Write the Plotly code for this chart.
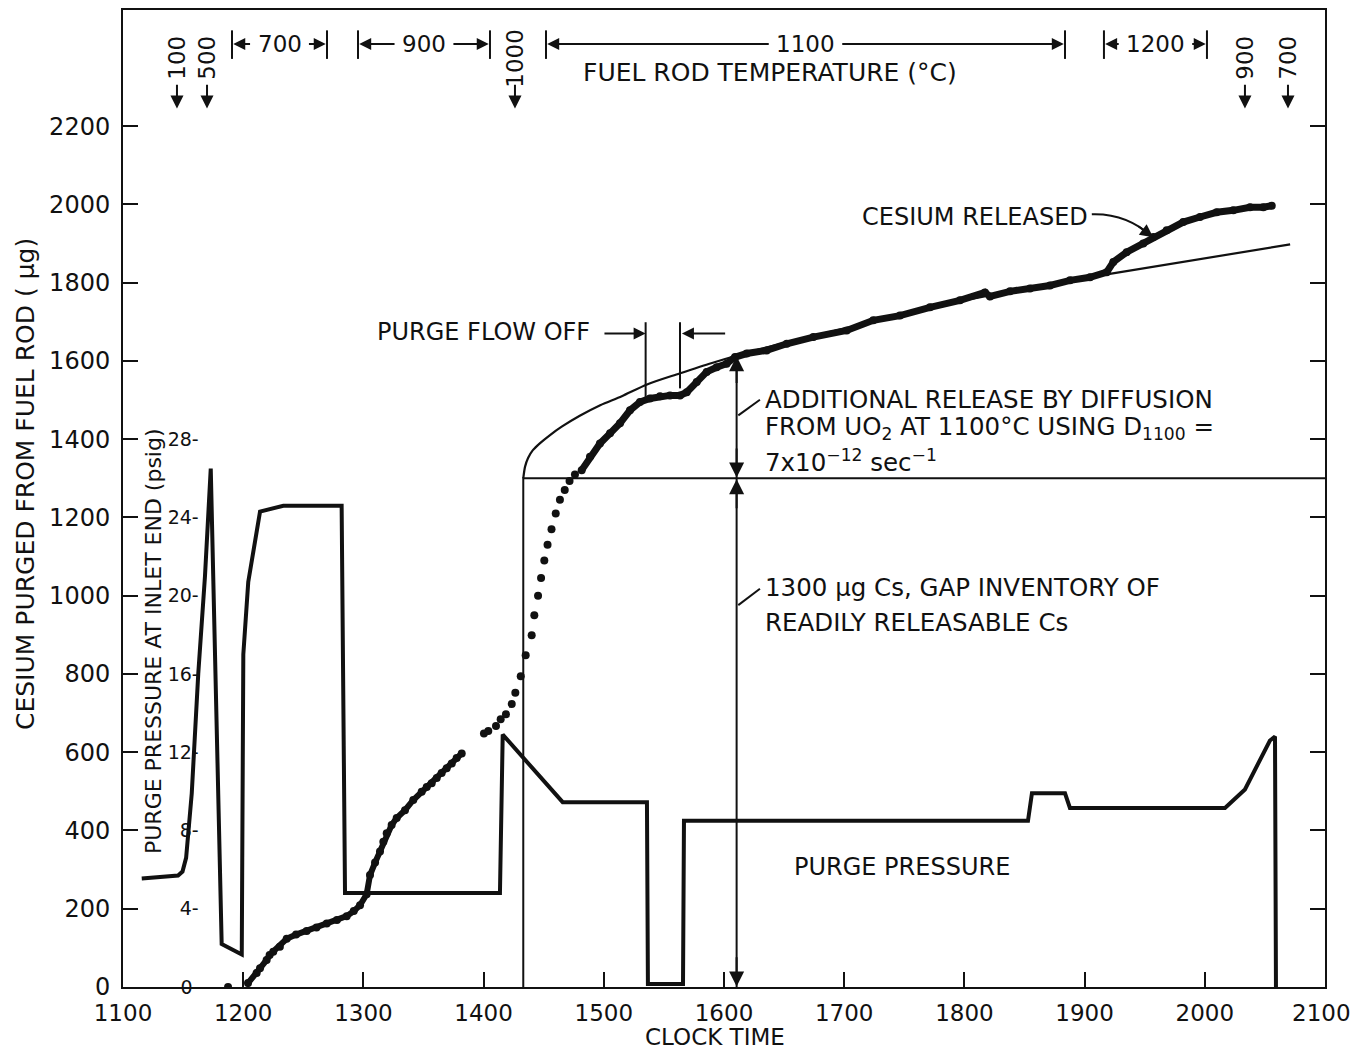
import plotly.graph_objects as go

# ---------------- data ----------------
# cesium purged (clock time, micrograms) - dense chain part 1
cs1_t = [1204.0, 1211.2, 1214.0, 1219.5, 1222.0, 1225.0, 1230.5, 1236.2, 1244.0, 1252.8, 1261.0,
         1269.5, 1278.0, 1286.1, 1292.0, 1297.2, 1302.7, 1305.5, 1309.7, 1313.8, 1316.6, 1319.4,
         1323.5, 1327.7, 1334.6, 1341.5, 1348.5, 1352.7, 1356.8, 1361.0, 1365.1, 1369.3, 1373.5,
         1377.6, 1381.8]
cs1_v = [10, 36, 48, 69, 82, 90, 103, 123, 134, 143, 152,
         162, 171, 181, 194, 209, 237, 286, 318, 346, 371, 393,
         414, 432, 452, 478, 499, 511, 521, 534, 547, 559, 571,
         585, 597]
# isolated point
cs0_t = [1187.4]
cs0_v = [0]
# sparse part
cs2_t = [1400.3, 1403.9, 1410.3, 1414.2, 1418.6, 1423.4, 1426.4, 1430.9, 1435.0, 1440.0, 1442.2,
         1445.3, 1447.8, 1450.5, 1453.2, 1456.5, 1460.0, 1463.5, 1467.5, 1471.5, 1476.0]
cs2_v = [648, 654, 667, 684, 697, 723, 752, 794, 848, 899, 950,
         1000, 1045, 1090, 1130, 1170, 1210, 1245, 1270, 1293, 1310]
# dense chain part 2
cs3_t = [1481.6, 1488.5, 1496.8, 1505.2, 1513.5, 1521.8, 1530.1, 1538.4, 1546.8, 1555.1, 1563.4,
         1569.0, 1577.3, 1585.6, 1593.9, 1602.2, 1609.2, 1618.9, 1635.5, 1652.2, 1674.3, 1702.1,
         1724.2, 1746.4, 1771.4, 1796.3, 1817.1, 1821.3, 1838.0, 1854.6, 1871.2, 1887.9, 1904.5,
         1918.4, 1923.9, 1935.0, 1948.8, 1957.2, 1968.3, 1982.1, 1996.0, 2009.9, 2023.7, 2037.6,
         2048.7, 2055.7]
cs3_v = [1321, 1355, 1389, 1415, 1441, 1474, 1495, 1504, 1510, 1512, 1512,
         1520, 1546, 1572, 1584, 1593, 1610, 1619, 1627, 1644, 1661, 1678,
         1704, 1716, 1737, 1755, 1775, 1765, 1778, 1785, 1793, 1806, 1814,
         1827, 1853, 1878, 1900, 1917, 1934, 1955, 1968, 1980, 1985, 1993,
         1993, 1997]

# diffusion model curve (clock time, micrograms)
diff_t = [1433, 1434.5, 1437, 1441, 1447, 1455, 1465, 1480, 1497, 1515, 1536, 1563, 1590, 1611,
          1640, 1680, 1720, 1760, 1800, 1850, 1912, 2071]
diff_v = [1300, 1330, 1352, 1372, 1390, 1410, 1432, 1460, 1487, 1510, 1540, 1568, 1595, 1614,
          1638, 1668, 1697, 1727, 1755, 1784, 1818, 1898]

# gap inventory
gap_t = [1433, 1433, 2100]
gap_v = [0, 1300, 1300]

# purge pressure (clock time, psig)
pp_t = [1115.6, 1145.8, 1149.5, 1152.5, 1157.2, 1162.6, 1168.2, 1173.0, 1182.1, 1198.8, 1200.1,
        1204.2, 1214.0, 1233.4, 1281.9, 1284.7, 1413.6, 1415.9, 1465.8, 1535.9, 1536.7, 1565.9,
        1566.7, 1852.9, 1856.2, 1883.7, 1887.8, 2016.8, 2033.4, 2045.9, 2054.2, 2058.4, 2059.2]
pp_v = [5.55, 5.7, 5.9, 6.6, 9.9, 16.0, 21.0, 26.5, 2.2, 1.66, 17.0,
        20.7, 24.3, 24.6, 24.6, 4.8, 4.8, 12.9, 9.45, 9.45, 0.15, 0.15,
        8.5, 8.5, 9.9, 9.9, 9.15, 9.15, 10.1, 11.6, 12.6, 12.8, 0.0]

# axis ticks
x_ticks = [1100, 1200, 1300, 1400, 1500, 1600, 1700, 1800, 1900, 2000, 2100]
x_ticktext = ["1100", "1200", "1300", "1400", "1500", "1600", "1700", "1800", "1900", "2000",
              "2100\u00a0"]
y_ticks = [0, 200, 400, 600, 800, 1000, 1200, 1400, 1600, 1800, 2000, 2200]
p_ticks = [0, 4, 8, 12, 16, 20, 24, 28]
p_ticktext = ["0\u00a0", "4-", "8-", "12-", "16-", "20-", "24-", "28-"]

# fuel rod temperature annotations
temp_pt_labels = ["100", "500", "1000", "900", "700"]
temp_pt_times = [1144.9, 1169.9, 1426.1, 2033.4, 2069.2]
temp_span_labels = ["700", "900", "1100", "1200"]
temp_span_start = [1190.7, 1295.5, 1451.9, 1916.1]
temp_span_end = [1269.7, 1405.3, 1883.7, 2001.8]

FONT = "DejaVu Sans"
BLACK = "#111111"

fig = go.Figure()

fig.add_trace(go.Scatter(x=gap_t, y=gap_v, mode="lines",
                         line=dict(color=BLACK, width=2), showlegend=False))
fig.add_trace(go.Scatter(x=diff_t, y=diff_v, mode="lines",
                         line=dict(color=BLACK, width=2.2, shape="spline", smoothing=0.8),
                         showlegend=False))
fig.add_trace(go.Scatter(x=pp_t, y=pp_v, mode="lines", yaxis="y2",
                         line=dict(color=BLACK, width=4), showlegend=False))
mk = dict(color=BLACK, size=8)
fig.add_trace(go.Scatter(x=cs0_t, y=cs0_v, mode="markers", marker=mk, showlegend=False))
fig.add_trace(go.Scatter(x=cs1_t, y=cs1_v, mode="lines+markers", marker=mk,
                         line=dict(color=BLACK, width=6), showlegend=False))
fig.add_trace(go.Scatter(x=cs2_t, y=cs2_v, mode="markers", marker=mk, showlegend=False))
fig.add_trace(go.Scatter(x=cs3_t, y=cs3_v, mode="lines+markers", marker=mk,
                         line=dict(color=BLACK, width=7), showlegend=False))

ann = []
shapes = []
PXU = 1.202  # pixels per clock unit (approx)


def arrow(x, y, ax, ay, size=1.2):
    return dict(x=x, y=y, xref="x", yref="y", ax=ax, ay=ay, axref="x", ayref="y", text="",
                showarrow=True, arrowhead=2, arrowsize=size, arrowwidth=2, arrowcolor=BLACK)


# temperature point labels with down arrows
for lab, t in zip(temp_pt_labels, temp_pt_times):
    ann.append(dict(x=t, y=2375, xref="x", yref="y", text=lab, textangle=-90, showarrow=False,
                    font=dict(family=FONT, size=23, color=BLACK)))
    ann.append(arrow(t, 2245, t, 2310, 1.3))

# temperature spans
for lab, a, b in zip(temp_span_labels, temp_span_start, temp_span_end):
    c = (a + b) / 2
    half = (len(lab) * 0.636 * 23 / 2 + 6) / PXU
    ann.append(dict(x=c, y=2410, xref="x", yref="y", text=lab, showarrow=False,
                    font=dict(family=FONT, size=23, color=BLACK)))
    ann.append(arrow(a + 1, 2410, c - half, 2410))
    ann.append(arrow(b - 1, 2410, c + half, 2410))
    for xx in (a, b):
        shapes.append(dict(type="line", xref="x", yref="y", x0=xx, x1=xx, y0=2372, y1=2445,
                           line=dict(color=BLACK, width=2)))

ann.append(dict(x=1638, y=2337, xref="x", yref="y", text="FUEL ROD TEMPERATURE (°C)",
                showarrow=False, font=dict(family=FONT, size=25, color=BLACK)))

# cesium released
ann.append(dict(x=1808.8, y=1967, xref="x", yref="y", text="CESIUM RELEASED", showarrow=False,
                font=dict(family=FONT, size=24, color=BLACK)))
shapes.append(dict(type="path", xref="x", yref="y", path="M 1906 1975 Q 1935 1978 1957 1916",
                   line=dict(color=BLACK, width=2)))
ann.append(dict(x=1957, y=1916, xref="x", yref="y", ax=-16, ay=-12, text="", showarrow=True,
                arrowhead=2, arrowsize=1.3, arrowwidth=2, arrowcolor=BLACK))

# purge flow off
ann.append(dict(x=1400.3, y=1673, xref="x", yref="y", text="PURGE FLOW OFF", showarrow=False,
                font=dict(family=FONT, size=24, color=BLACK)))
ann.append(arrow(1534.8, 1670, 1499.3, 1670))
ann.append(arrow(1565, 1670, 1602.2, 1670))
shapes.append(dict(type="line", xref="x", yref="y", x0=1534.8, x1=1534.8, y0=1508, y1=1699,
                   line=dict(color=BLACK, width=2)))
shapes.append(dict(type="line", xref="x", yref="y", x0=1563.4, x1=1563.4, y0=1530, y1=1699,
                   line=dict(color=BLACK, width=2)))

# double arrows at 1610
XA = 1610.5
shapes.append(dict(type="line", xref="x", yref="y", x0=XA, x1=XA, y0=0, y1=1612,
                   line=dict(color=BLACK, width=2)))
for tip, tail in [(1612, 1540), (1302, 1380), (1298, 1220), (1, 80)]:
    ann.append(arrow(XA, tip, XA, tail, 1.5))
shapes.append(dict(type="line", xref="x", yref="y", x0=1611.9, x1=1629.9, y0=1461, y1=1501,
                   line=dict(color=BLACK, width=2)))
shapes.append(dict(type="line", xref="x", yref="y", x0=1611.9, x1=1629.9, y0=976, y1=1018,
                   line=dict(color=BLACK, width=2)))

txt_lines = [
    (1502, "ADDITIONAL RELEASE BY DIFFUSION"),
    (1429, "FROM UO<sub>2</sub> AT 1100°C USING D<sub>1100</sub> ="),
    (1345, "7x10<sup>−12</sup> sec<sup>−1</sup>"),
    (1021, "1300 μg Cs, GAP INVENTORY OF"),
    (931, "READILY RELEASABLE Cs"),
]
for yy, tx in txt_lines:
    ann.append(dict(x=1632.8, y=yy, xref="x", yref="y", text=tx, showarrow=False, xanchor="left",
                    font=dict(family=FONT, size=24.5, color=BLACK)))

ann.append(dict(x=1748, y=306, xref="x", yref="y", text="PURGE PRESSURE", showarrow=False,
                font=dict(family=FONT, size=24, color=BLACK)))

# axis titles (paper coordinates; plot area 123..1325 x 10..987 px)
PW, PH = 1202, 977
ann.append(dict(x=(25 - 123) / PW, y=(987 - 484) / PH, xref="paper", yref="paper",
                xanchor="center", yanchor="middle",
                text="CESIUM PURGED FROM FUEL ROD ( μg)", textangle=-90, showarrow=False,
                font=dict(family=FONT, size=25, color=BLACK)))
ann.append(dict(x=(153 - 123) / PW, y=(987 - 641) / PH, xref="paper", yref="paper",
                xanchor="center", yanchor="middle",
                text="PURGE PRESSURE AT INLET END (psig)", textangle=-90, showarrow=False,
                font=dict(family=FONT, size=22, color=BLACK)))
ann.append(dict(x=(715 - 123) / PW, y=(987 - 1037) / PH, xref="paper", yref="paper",
                xanchor="center", yanchor="middle",
                text="CLOCK TIME", showarrow=False,
                font=dict(family=FONT, size=23, color=BLACK)))

fig.update_layout(
    width=1342, height=1042,
    margin=dict(l=115, r=25, t=2, b=63, autoexpand=False),
    paper_bgcolor="white", plot_bgcolor="white",
    font=dict(family=FONT, color=BLACK),
    xaxis=dict(range=[1100, 2100], tickvals=x_ticks, ticktext=x_ticktext, ticks="inside",
               ticklen=15, tickwidth=2, automargin=False,
               tickcolor=BLACK, showline=True, linewidth=2, linecolor=BLACK, mirror=True,
               showgrid=False, zeroline=False, tickfont=dict(size=23, family=FONT),
               ticklabelstandoff=4, ticklabeloverflow="allow"),
    yaxis=dict(range=[0, 2497], tickvals=y_ticks, ticks="inside", ticklen=15, tickwidth=2,
               tickcolor=BLACK, showline=True, linewidth=2, linecolor=BLACK, mirror="ticks",
               showgrid=False, zeroline=False, tickfont=dict(size=24, family=FONT),
               ticklabelstandoff=6, automargin=False),
    yaxis2=dict(range=[0, 2497 / 50], overlaying="y", anchor="free", position=0.063, side="left",
                tickvals=p_ticks, ticktext=p_ticktext, ticks="", showline=False, showgrid=False,
                zeroline=False, tickfont=dict(size=19, family=FONT), automargin=False),
    annotations=ann, shapes=shapes,
)

fig.write_html("out.html")
